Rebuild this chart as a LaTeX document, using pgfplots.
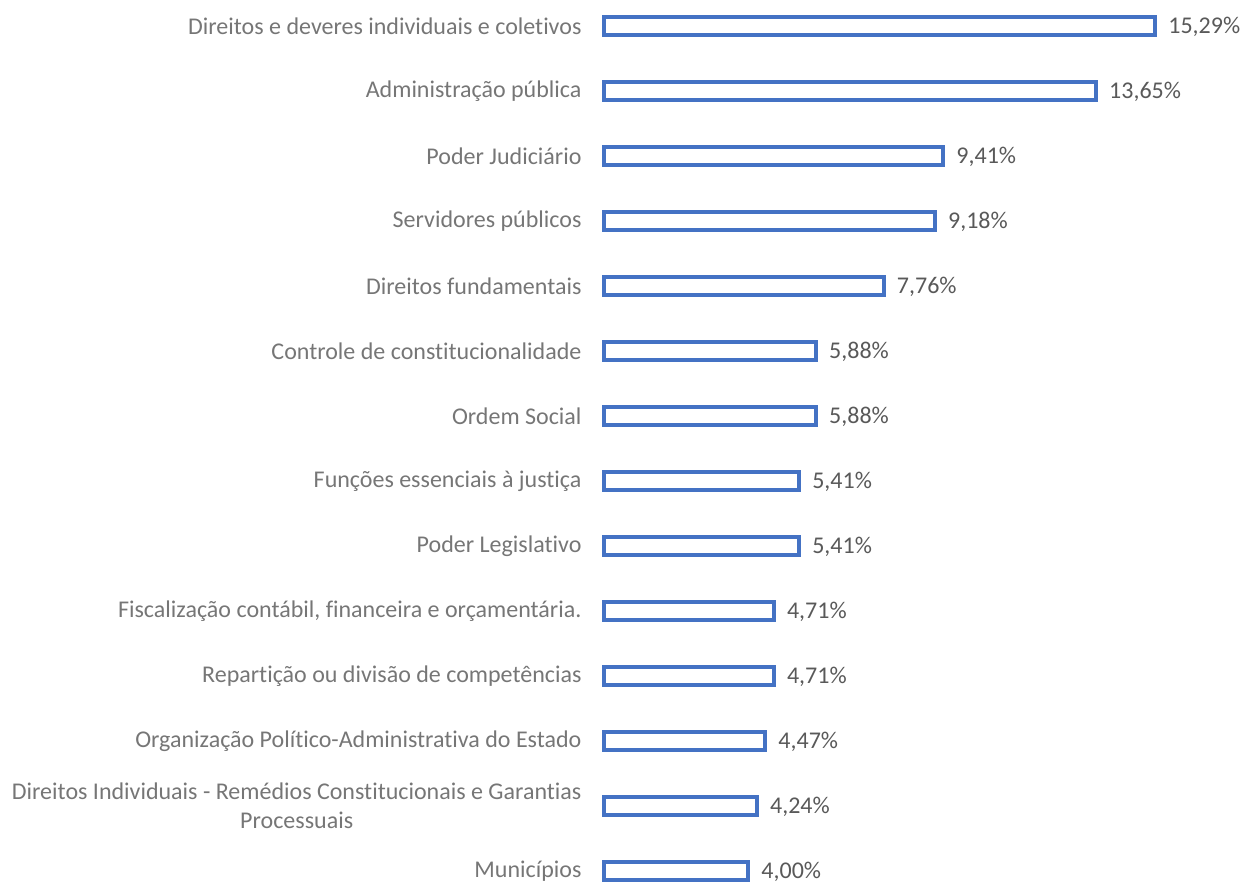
\documentclass[border=0pt]{standalone}
\usepackage{fontspec}
\setmainfont[Ligatures=NoCommon]{Carlito}
\usepackage{pgfplots}
\pgfplotsset{compat=1.18}
\definecolor{barblue}{HTML}{4472C4}
\definecolor{labgray}{HTML}{767676}
\definecolor{valgray}{HTML}{595959}
\begin{document}
\begin{tikzpicture}
\useasboundingbox (0,0) rectangle (1244pt,884pt);
\begin{axis}[
  at={(604pt,0pt)}, anchor=south west,
  scale only axis,
  width=551pt, height=871pt,
  xmin=0, xmax=15.29,
  ymin=-0.2, ymax=13.2,
  xbar, bar width=18pt,
  axis line style={draw=none},
  tick style={draw=none},
  major tick length=0pt,
  xtick=\empty,
  ytick={0,...,13},
  yticklabels={
    Municípios,
    {Direitos Individuais - Remédios Constitucionais e Garantias\\Processuais},
    Organização Político-Administrativa do Estado,
    Repartição ou divisão de competências,
    {Fiscalização contábil, financeira e orçamentária.},
    Poder Legislativo,
    Funções essenciais à justiça,
    Ordem Social,
    Controle de constitucionalidade,
    Direitos fundamentais,
    Servidores públicos,
    Poder Judiciário,
    Administração pública,
    Direitos e deveres individuais e coletivos},
  yticklabel style={font=\fontsize{24}{29}\selectfont, text=labgray, align=center, xshift=-19pt},
  clip=false,
  /pgf/number format/assume math mode=true,
  /pgf/number format/.cd, use comma, fixed, fixed zerofill, precision=2,
  /pgfplots/.cd,
  nodes near coords={\pgfmathprintnumber{\pgfplotspointmeta}\%},
  nodes near coords style={font=\fontsize{24}{28}\selectfont, text=valgray, anchor=west, xshift=8pt, yshift=-1pt},
]
\addplot[draw=barblue, fill=white, line width=4pt] coordinates {
  (4.00,0) (4.24,1) (4.47,2) (4.71,3) (4.71,4) (5.41,5) (5.41,6)
  (5.88,7) (5.88,8) (7.76,9) (9.18,10) (9.41,11) (13.65,12) (15.29,13)
};
\end{axis}
\end{tikzpicture}
\end{document}
